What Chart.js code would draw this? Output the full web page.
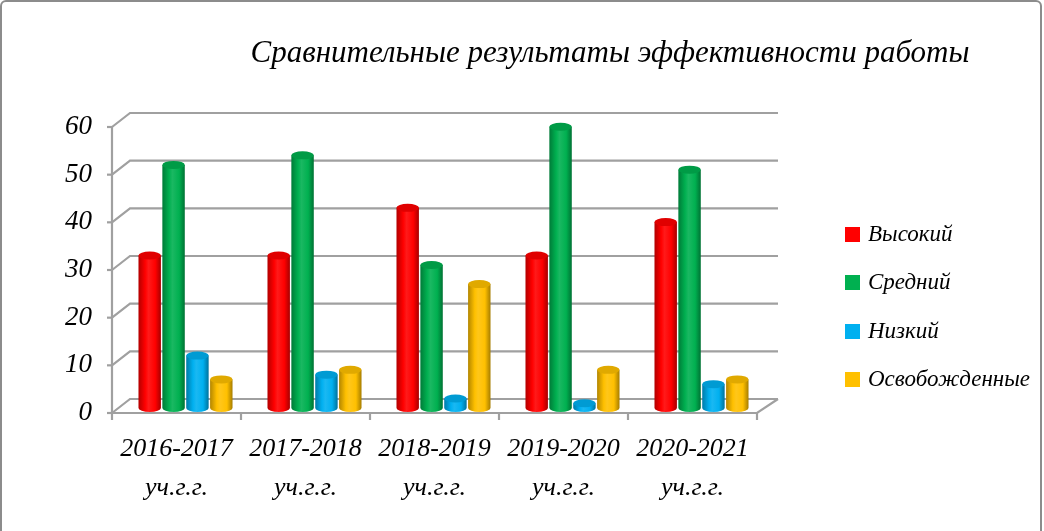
<!DOCTYPE html>
<html>
<head>
<meta charset="utf-8">
<script src="https://cdn.jsdelivr.net/npm/chart.js@4/dist/chart.umd.min.js"></script>
<style>
  html, body { margin: 0; padding: 0; background: #fff; }
  #wrap { position: relative; width: 1044px; height: 531px; overflow: hidden; }
  #frame { position: absolute; left: 0; top: 0; width: 1038px; height: 540px; border: 2px solid #8c8c8c; border-radius: 6px; pointer-events: none; }
  canvas { position: absolute; left: 0; top: 0; }
</style>
</head>
<body>
<div id="wrap">
  <canvas id="c" width="1044" height="531"></canvas>
  <div id="frame"></div>
</div>
<script>
const titleText = 'Сравнительные результаты эффективности работы';
const categories = [
  ['2016-2017', 'уч.г.г.'],
  ['2017-2018', 'уч.г.г.'],
  ['2018-2019', 'уч.г.г.'],
  ['2019-2020', 'уч.г.г.'],
  ['2020-2021', 'уч.г.г.']
];
const seriesNames = ['Высокий', 'Средний', 'Низкий', 'Освобожденные'];
const vysokiy = [32, 32, 42, 32, 39];
const sredniy = [51, 53, 30, 59, 50];
const nizkiy = [11, 7, 2, 1, 5];
const osvobozhdennye = [6, 8, 26, 8, 6];
const yTicks = [0, 10, 20, 30, 40, 50, 60];

const colors = ['#FF0000', '#00B050', '#00B0F0', '#FFC000'];
const FONT = '"Liberation Serif", "DejaVu Serif", serif';

function shade(hex, f) {
  const n = parseInt(hex.slice(1), 16);
  let r = (n >> 16) & 255, g = (n >> 8) & 255, b = n & 255;
  if (f < 0) { r = r * (1 + f); g = g * (1 + f); b = b * (1 + f); }
  else { r = r + (255 - r) * f; g = g + (255 - g) * f; b = b + (255 - b) * f; }
  return 'rgb(' + Math.round(r) + ',' + Math.round(g) + ',' + Math.round(b) + ')';
}

const GRID = '#a0a0a0';
const FRONT_DX = -9, FRONT_DY = 5, BACK_DX = 9, BACK_DY = -9, BACK_RIGHT = 12;

const wallPlugin = {
  id: 'wall3d',
  beforeDatasetsDraw(chart) {
    const ctx = chart.ctx, y = chart.scales.y;
    const L = chart.chartArea.left, R = chart.chartArea.right;
    ctx.save();
    ctx.strokeStyle = GRID;
    ctx.lineWidth = 2.2;
    yTicks.forEach(v => {
      const ym = y.getPixelForValue(v);
      ctx.beginPath();
      ctx.moveTo(L + FRONT_DX, ym + FRONT_DY);
      ctx.lineTo(L + BACK_DX, ym + BACK_DY);
      ctx.lineTo(R + BACK_RIGHT, ym + BACK_DY);
      ctx.stroke();
      ctx.beginPath();
      ctx.moveTo(L + FRONT_DX - 5, ym + FRONT_DY);
      ctx.lineTo(L + FRONT_DX, ym + FRONT_DY);
      ctx.stroke();
    });
    const yTop = y.getPixelForValue(yTicks[yTicks.length - 1]);
    const y0 = y.getPixelForValue(0);
    ctx.beginPath();
    ctx.moveTo(L + FRONT_DX, yTop + FRONT_DY);
    ctx.lineTo(L + FRONT_DX, y0 + FRONT_DY);
    ctx.stroke();
    ctx.beginPath();
    ctx.moveTo(L + FRONT_DX, y0 + FRONT_DY);
    ctx.lineTo(R + FRONT_DX, y0 + FRONT_DY);
    ctx.lineTo(R + BACK_RIGHT, y0 + BACK_DY);
    ctx.stroke();
    const n = categories.length;
    const w = (R - L) / n;
    for (let i = 0; i <= n; i++) {
      const xx = L + FRONT_DX + i * w;
      ctx.beginPath();
      ctx.moveTo(xx, y0 + FRONT_DY);
      ctx.lineTo(xx, y0 + FRONT_DY + 7);
      ctx.stroke();
    }
    ctx.restore();

    chart.data.datasets.forEach((ds, di) => {
      const meta = chart.getDatasetMeta(di);
      meta.data.forEach(el => {
        const p = el.getProps(['x', 'width'], true);
        const x0 = p.x - p.width / 2, x1 = p.x + p.width / 2;
        const g = ctx.createLinearGradient(x0, 0, x1, 0);
        const base = colors[di];
        g.addColorStop(0, shade(base, -0.3));
        g.addColorStop(0.3, base);
        g.addColorStop(0.45, shade(base, 0.1));
        g.addColorStop(0.75, base);
        g.addColorStop(1, shade(base, -0.35));
        el.options.backgroundColor = g;
      });
    });
  },
  afterDatasetsDraw(chart) {
    const ctx = chart.ctx;
    chart.data.datasets.forEach((ds, di) => {
      const meta = chart.getDatasetMeta(di);
      meta.data.forEach(el => {
        const p = el.getProps(['x', 'y', 'base', 'width'], true);
        const rx = p.width / 2, ry = 4;
        ctx.save();
        ctx.beginPath();
        ctx.ellipse(p.x, p.base, rx, ry, 0, 0, Math.PI);
        ctx.fillStyle = el.options.backgroundColor;
        ctx.fill();
        ctx.beginPath();
        ctx.ellipse(p.x, p.y, rx, ry, 0, 0, Math.PI * 2);
        ctx.fillStyle = shade(colors[di], -0.12);
        ctx.fill();
        ctx.restore();
      });
    });
  }
};

const textPlugin = {
  id: 'texts',
  afterDraw(chart) {
    const ctx = chart.ctx;
    ctx.save();
    ctx.fillStyle = '#000';
    ctx.textAlign = 'center';
    ctx.textBaseline = 'alphabetic';
    ctx.font = 'italic 31px ' + FONT;
    ctx.fillText(titleText, 610, 62);
    const ys = [234, 282, 331, 379];
    ctx.textAlign = 'left';
    ctx.font = 'italic 23px ' + FONT;
    chart.data.datasets.forEach((ds, i) => {
      ctx.fillStyle = colors[i];
      ctx.fillRect(845, ys[i] - 7, 15, 15);
      ctx.fillStyle = '#000';
      ctx.fillText(ds.label, 868, ys[i] + 7);
    });
    ctx.restore();
  }
};

const seriesData = [vysokiy, sredniy, nizkiy, osvobozhdennye];

new Chart(document.getElementById('c'), {
  type: 'bar',
  data: {
    labels: categories,
    datasets: seriesNames.map((name, i) => ({
      label: name,
      data: seriesData[i],
      backgroundColor: () => colors[i],
      borderWidth: 0,
      categoryPercentage: 0.74,
      barPercentage: 0.94
    }))
  },
  options: {
    responsive: false,
    animation: false,
    devicePixelRatio: 1,
    layout: { padding: { top: 122, right: 278, left: 0, bottom: 0 } },
    plugins: {
      legend: { display: false },
      title: { display: false },
      tooltip: { enabled: false }
    },
    scales: {
      x: {
        grid: { display: false, drawTicks: false },
        border: { display: false },
        ticks: {
          color: '#000',
          font: { family: FONT, style: 'italic', size: 26, lineHeight: 1.5 },
          padding: 22,
          labelOffset: -9,
          maxRotation: 0,
          autoSkip: false
        },
        afterFit(s) { s.height = 123; }
      },
      y: {
        min: 0,
        max: 60,
        grid: { display: false, drawTicks: false },
        border: { display: false },
        ticks: {
          stepSize: 10,
          color: '#000',
          font: { family: FONT, style: 'italic', size: 27 },
          padding: 29,
          labelOffset: 5
        },
        afterFit(s) { s.width = 121; }
      }
    }
  },
  plugins: [wallPlugin, textPlugin]
});
</script>
</body>
</html>
